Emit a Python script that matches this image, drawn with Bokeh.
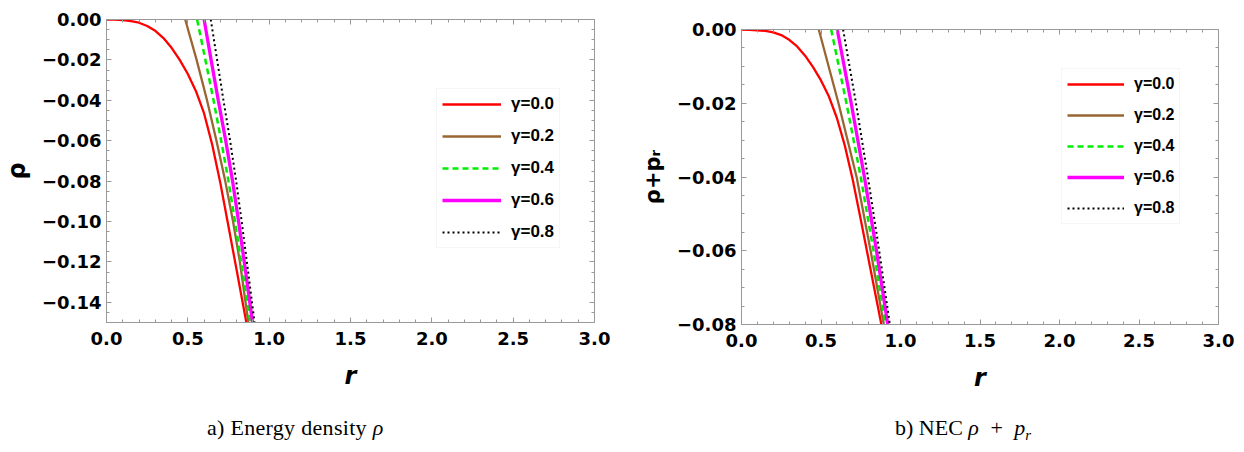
import numpy as np
from bokeh.plotting import figure
from bokeh.layouts import row, column
from bokeh.models import (Range1d, LinearAxis, FixedTicker, CustomJSTickFormatter,
                          Legend, LegendItem, Div, Spacer)
from bokeh.embed import file_html
from bokeh.resources import INLINE

# ---------------- data ----------------
gamma_labels = ["γ=0.0", "γ=0.2", "γ=0.4", "γ=0.6", "γ=0.8"]

# panel a: energy density rho
r_red_a = [0.0, 0.05, 0.1, 0.15, 0.2, 0.25, 0.3, 0.35, 0.4, 0.45, 0.5, 0.55, 0.6, 0.65, 0.7, 0.75, 0.8, 0.862]
rho_red_a = [0.0, -0.0001, -0.0003, -0.0008, -0.0016, -0.0032, -0.0056, -0.0092, -0.0140, -0.0200,
             -0.0270, -0.0355, -0.0465, -0.0620, -0.0810, -0.1025, -0.1240, -0.1510]
rho_lv_a = [0.0, -0.02, -0.04, -0.06, -0.08, -0.10, -0.12, -0.15]
r_g02_a = [0.484, 0.554, 0.618, 0.676, 0.730, 0.778, 0.820, 0.872]
r_g04_a = [0.557, 0.608, 0.658, 0.705, 0.750, 0.790, 0.828, 0.884]
r_g06_a = [0.600, 0.643, 0.687, 0.733, 0.775, 0.812, 0.847, 0.898]
r_g08_a = [0.641, 0.680, 0.719, 0.760, 0.797, 0.831, 0.863, 0.910]

# panel b: NEC rho + p_r
r_red_b = [0.0, 0.05, 0.1, 0.15, 0.2, 0.25, 0.3, 0.35, 0.4, 0.45, 0.5, 0.55, 0.6, 0.65, 0.7,
           0.75, 0.8, 0.85, 0.882]
rho_red_b = [0.0, -0.0001, -0.0002, -0.0004, -0.0008, -0.0015, -0.0028, -0.0046, -0.0071, -0.0102,
             -0.0138, -0.0182, -0.0240, -0.0315, -0.0408, -0.0515, -0.0625, -0.0735, -0.0805]
rho_lv_b = [0.0, -0.02, -0.04, -0.06, -0.08]
r_g02_b = [0.486, 0.610, 0.724, 0.812, 0.895]
r_g04_b = [0.564, 0.660, 0.750, 0.830, 0.906]
r_g06_b = [0.602, 0.690, 0.773, 0.849, 0.920]
r_g08_b = [0.639, 0.720, 0.795, 0.866, 0.933]

# ticks
x_ticks = [0.0, 0.5, 1.0, 1.5, 2.0, 2.5, 3.0]
x_tick_labels = ["0.0", "0.5", "1.0", "1.5", "2.0", "2.5", "3.0"]
ya_ticks = [0.0, -0.02, -0.04, -0.06, -0.08, -0.10, -0.12, -0.14]
ya_tick_labels = ["0.00", "\u22120.02", "\u22120.04", "\u22120.06", "\u22120.08", "\u22120.10",
                  "\u22120.12", "\u22120.14"]
yb_ticks = [0.0, -0.02, -0.04, -0.06, -0.08]
yb_tick_labels = ["0.00", "\u22120.02", "\u22120.04", "\u22120.06", "\u22120.08"]

x_minor = [round(v, 3) for v in np.arange(0, 3.0001, 0.1)]
ya_minor = [round(v, 4) for v in np.arange(0, -0.15001, -0.005)]
yb_minor = [round(v, 4) for v in np.arange(0, -0.08001, -0.005)]

# ---------------- styles ----------------
styles = [
    dict(color="#FF0000", line_width=2.3, line_dash="solid"),
    dict(color="#996633", line_width=2.3, line_dash="solid"),
    dict(color="#00EE00", line_width=2.5, line_dash="6 4"),
    dict(color="#FF00FF", line_width=3.3, line_dash="solid"),
    dict(color="#000000", line_width=2.0, line_dash="2 3"),
]
FRAME = "#999999"
TICK_FONT = "DejaVu Sans"


def fmt(tv, tl):
    return CustomJSTickFormatter(args=dict(tv=tv, tl=tl), code="""
        let best = 0;
        for (let i = 0; i < tv.length; i++) {
            if (Math.abs(tv[i] - tick) < Math.abs(tv[best] - tick)) best = i;
        }
        return tl[best];
    """)


def style_axis(ax, show_labels):
    ax.axis_line_color = FRAME
    ax.major_tick_line_color = FRAME
    ax.minor_tick_line_color = FRAME
    ax.major_tick_in = 5
    ax.major_tick_out = 0
    ax.minor_tick_in = 3
    ax.minor_tick_out = 0
    if not show_labels:
        ax.formatter = CustomJSTickFormatter(code="return '';")
        ax.major_label_text_font_size = "1px"
        ax.major_label_standoff = 0
    else:
        ax.major_label_text_font = TICK_FONT
        ax.major_label_text_font_style = "bold"
        ax.major_label_text_font_size = "18px"
        ax.major_label_text_color = "black"
        ax.axis_label_text_font = TICK_FONT
        ax.axis_label_text_color = "black"


def make_panel(w, h, bl, br, bt, bb, yr, yticks, ylabels, yminor, xlab, ylab, ylab_size, ylab_standoff):
    p = figure(width=w, height=h, min_border_left=bl, min_border_right=br,
               min_border_top=bt, min_border_bottom=bb,
               x_range=Range1d(0, 3), y_range=Range1d(yr[0], yr[1]),
               x_axis_type=None, y_axis_type=None,
               output_backend="svg", toolbar_location=None)
    p.outline_line_color = FRAME
    p.outline_line_width = 1
    p.background_fill_color = "white"
    p.border_fill_color = "white"

    xt = FixedTicker(ticks=x_ticks, minor_ticks=x_minor)
    yt = FixedTicker(ticks=yticks, minor_ticks=yminor)

    xb = LinearAxis(ticker=xt, formatter=fmt(x_ticks, x_tick_labels), axis_label=xlab)
    style_axis(xb, True)
    xb.major_label_standoff = 9
    xb.axis_label_standoff = 14
    xb.axis_label_text_font_style = "bold italic"
    xb.axis_label_text_font_size = "24px"
    p.add_layout(xb, "below")

    xa = LinearAxis(ticker=xt)
    style_axis(xa, False)
    p.add_layout(xa, "above")

    yl = LinearAxis(ticker=yt, formatter=fmt(yticks, ylabels), axis_label=ylab)
    style_axis(yl, True)
    yl.major_label_standoff = 5
    yl.axis_label_standoff = ylab_standoff
    yl.axis_label_text_font_style = "bold"
    yl.axis_label_text_font_size = ylab_size
    p.add_layout(yl, "left")

    yrr = LinearAxis(ticker=yt)
    style_axis(yrr, False)
    p.add_layout(yrr, "right")
    return p


def make_legend(rends, loc, gw, spacing, fsize):
    return Legend(items=[LegendItem(label=l, renderers=[r]) for l, r in zip(gamma_labels, rends)],
                  location=loc, glyph_width=gw, glyph_height=20, label_height=20,
                  label_standoff=10, spacing=spacing, padding=5, margin=0,
                  label_text_font="Liberation Sans", label_text_font_style="bold",
                  label_text_font_size=fsize, label_text_color="black",
                  border_line_color="#eeeeee",
                  background_fill_color="white", background_fill_alpha=1.0)


FIG_H = 416
P2_SHIFT = 10

# ---------------- panel a ----------------
p1 = make_panel(628, FIG_H, 104, 34, 19, FIG_H - 19 - 303, (-0.15, 0.0),
                ya_ticks, ya_tick_labels, ya_minor, "r", "ρ", "24px", 8)
series_a = [(r_red_a, rho_red_a), (r_g02_a, rho_lv_a), (r_g04_a, rho_lv_a),
            (r_g06_a, rho_lv_a), (r_g08_a, rho_lv_a)]
rends_a = [p1.line(xs, ys, **st) for (xs, ys), st in zip(series_a, styles)]
p1.add_layout(make_legend(rends_a, (330, 74), 59, 12, "17px"))

# ---------------- panel b ----------------
p2_h = FIG_H - P2_SHIFT
p2 = make_panel(608, p2_h, 113, 18, 19, p2_h - 19 - 295, (-0.08, 0.0),
                yb_ticks, yb_tick_labels, yb_minor, "r", "ρ+pᵣ", "21px", 9)
series_b = [(r_red_b, rho_red_b), (r_g02_b, rho_lv_b), (r_g04_b, rho_lv_b),
            (r_g06_b, rho_lv_b), (r_g08_b, rho_lv_b)]
rends_b = [p2.line(xs, ys, **st) for (xs, ys), st in zip(series_b, styles)]
p2.add_layout(make_legend(rends_b, (320, 100), 57, 11, "16px"))

# ---------------- captions ----------------
CAP = ("font-family:'Liberation Serif','Times New Roman',serif;font-size:22px;"
       "line-height:24px;color:black;white-space:nowrap;")
cap_a = Div(text=(f"<div style=\"{CAP}padding-left:207px;letter-spacing:0.3px;\">"
                  "a) Energy density <i>ρ</i></div>"),
            width=628, height=34, margin=0)
cap_b = Div(text=(f"<div style=\"{CAP}padding-left:267px;\">b) NEC <i>ρ</i> "
                  "<span style=\"margin:0 6px;\">+</span> <i>p</i>"
                  "<i style=\"font-size:15px;position:relative;top:5px;\">r</i></div>"),
            width=608, height=34, margin=0)

right_col = column(Spacer(width=608, height=P2_SHIFT), p2)
layout = column(row(p1, right_col), row(cap_a, cap_b))
open("out.html", "w").write(file_html(layout, INLINE))
